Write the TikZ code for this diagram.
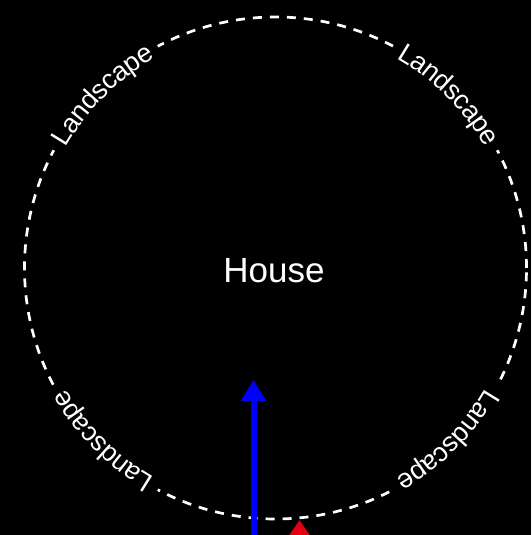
\documentclass[tikz,border=0pt]{standalone}
\usepackage{fontspec}
\setmainfont{Liberation Sans}
\usetikzlibrary{decorations.text, arrows.meta}
\definecolor{arrowblue}{RGB}{0,0,255}
\definecolor{arrowred}{RGB}{230,0,18}
\begin{document}
\begin{tikzpicture}[x=1pt,y=1pt,
  ring/.style={circle, draw=white, line width=2.7pt, dash pattern=on 9pt off 8pt, minimum size=502pt, inner sep=0pt},
  gapmask/.style={draw=black, line width=14pt},
  lbl/.style={decorate, decoration={text along path, text align=center, raise=-9pt, text color=white, text={|\fontsize{27}{27}\selectfont|Landscape}}},
  title/.style={text=white, font=\fontsize{35}{35}\selectfont, inner sep=0pt},
  bluearrow/.style={draw=arrowblue, line width=6pt, -{Triangle[length=21pt, width=24pt]}},
  redarrow/.style={draw=arrowred, line width=6pt, -{Triangle[length=21pt, width=27pt]}},
]
\fill[black] (0,0) rectangle (531,535);
\useasboundingbox (0,0) rectangle (531,535);
\clip (0,0) rectangle (531,535);
\node[ring] (land) at (275.5,267) {};
\foreach \a in {45,135,225,315}{
  \draw[gapmask] (land.center) ++(\a+17:251) arc[start angle=\a+17, end angle=\a-17, radius=251];
  \path[lbl] (land.center) ++(\a+24:251) arc[start angle=\a+24, end angle=\a-24, radius=251];
}
\node[title] (house) at (274,264.5) {House};
\coordinate (bluefoot) at (253.5,-5);
\coordinate (bluetip) at (253.5,155);
\draw[bluearrow] (bluefoot) -- (bluetip);
\coordinate (redfoot) at (299.5,-40);
\coordinate (redtip) at (299.5,15);
\draw[redarrow] (redfoot) -- (redtip);
\end{tikzpicture}
\end{document}
